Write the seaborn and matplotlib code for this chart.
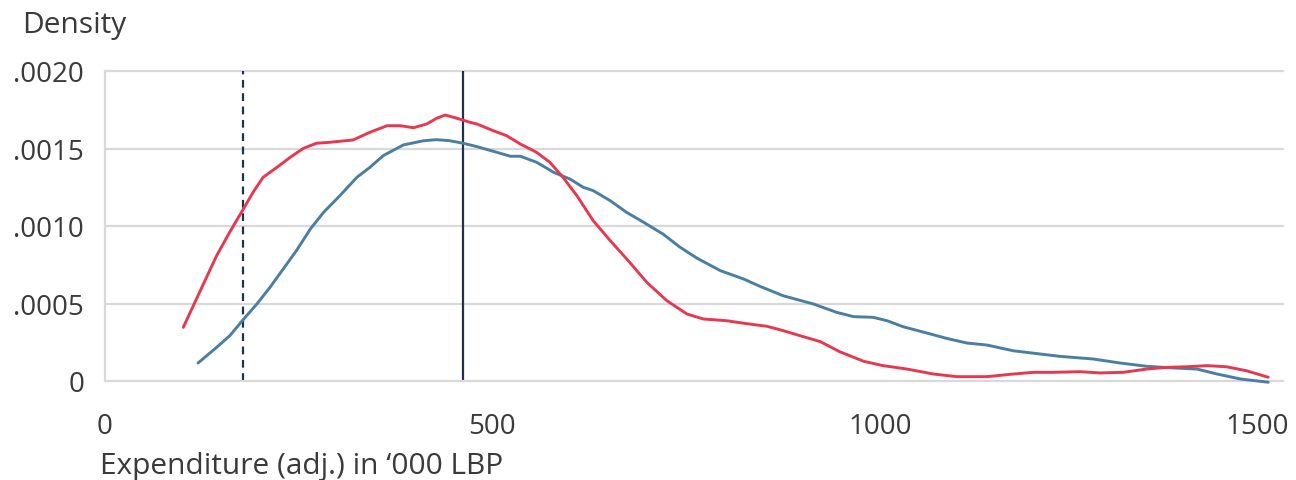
import numpy as np
import pandas as pd
import seaborn as sns
import matplotlib.pyplot as plt
import matplotlib.transforms as mtransforms

# Data (x in '000 LBP, y = density)
red_x = [101, 114, 127, 144, 161, 176, 191, 204, 222, 239, 256, 273, 290, 320, 342, 364,
         381, 398, 415, 428, 439, 454, 471, 480, 501, 518, 536, 557, 574, 591, 609, 630,
         652, 677, 699, 725, 751, 772, 802, 825, 854, 875, 897, 923, 948, 979, 1004, 1035,
         1069, 1099, 1138, 1172, 1198, 1224, 1258, 1284, 1314, 1344, 1370, 1396, 1422,
         1447, 1473, 1501]
red_y = [.000346, .000486, .000626, .000808, .000961, .001088, .001217, .001314, .001379,
         .001443, .001501, .001534, .001540, .001555, .001605, .001647, .001647, .001634,
         .001658, .001695, .001716, .001695, .001669, .001658, .001615, .001583, .001529,
         .001475, .001411, .001314, .001195, .001034, .000905, .000766, .000637, .000518,
         .000432, .000400, .000389, .000372, .000353, .000325, .000292, .000254, .000189,
         .000127, .000099, .000077, .000045, .000028, .000028, .000045, .000056, .000056,
         .000060, .000052, .000056, .000077, .000088, .000092, .000099, .000092, .000066,
         .000024]

blue_x = [120, 144, 161, 179, 196, 213, 230, 247, 265, 282, 303, 325, 342, 359, 385, 411,
          428, 445, 462, 480, 501, 523, 536, 557, 579, 600, 617, 630, 652, 673, 695, 720,
          742, 764, 794, 824, 845, 875, 914, 944, 966, 991, 1009, 1030, 1060, 1086, 1112,
          1138, 1172, 1207, 1232, 1275, 1310, 1344, 1379, 1409, 1435, 1465, 1501]
blue_y = [.000116, .000217, .000292, .000400, .000497, .000605, .000723, .000841, .000981,
          .001088, .001195, .001314, .001379, .001454, .001523, .001550, .001557, .001550,
          .001534, .001512, .001482, .001450, .001450, .001411, .001346, .001303, .001250,
          .001228, .001163, .001088, .001024, .000948, .000863, .000792, .000712, .000658,
          .000611, .000550, .000497, .000443, .000415, .000411, .000389, .000350, .000310,
          .000275, .000245, .000232, .000195, .000174, .000159, .000142, .000116, .000095,
          .000084, .000077, .000045, .000013, -.000008]

dashed_x = 178
solid_x = 462

x_ticks = [0, 500, 1000, 1500]
y_ticks = [0, .0005, .0010, .0015, .0020]
y_tick_labels = ["0", ".0005", ".0010", ".0015", ".0020"]

sns.set_style("white")
plt.rcParams['font.family'] = ['Open Sans', 'DejaVu Sans']

text_col = "#3a3a3a"
grid_col = "#d9d9d9"
red = "#e63950"
blue = "#4a7fa3"
navy = "#1d3150"
fs = 20

W, H = 1296, 481
fig = plt.figure(figsize=(W / 100, H / 100), dpi=100)
ax = fig.add_axes([105 / W, 1 - 382 / H, (1283 - 105) / W, (382 - 72) / H])

df_red = pd.DataFrame({"x": red_x, "y": red_y})
df_blue = pd.DataFrame({"x": blue_x, "y": blue_y})

for yv in y_ticks[1:]:
    ax.axhline(yv, color=grid_col, lw=1.6, zorder=0)

sns.lineplot(data=df_blue, x="x", y="y", color=blue, lw=2.1, ax=ax, sort=False, zorder=3)
sns.lineplot(data=df_red, x="x", y="y", color=red, lw=2.1, ax=ax, sort=False, zorder=4)
for l in ax.lines:
    l.set_clip_on(False)

ax.vlines(dashed_x, 0, .0020, colors=navy, linestyles=(0, (3.5, 2.5)), lw=1.6, zorder=2)
ax.vlines(solid_x, 0, .0020, colors=navy, lw=1.6, zorder=2)

ax.set_xlim(0, 1520)
ax.set_ylim(0, .0020)
ax.set_xticks(x_ticks)
ax.set_xticklabels([str(t) for t in x_ticks])
ax.set_yticks(y_ticks)
ax.set_yticklabels(y_tick_labels)
ax.tick_params(axis="x", direction="inout", length=14, width=1.2, color=grid_col,
               pad=15, labelsize=fs, labelcolor=text_col)
ax.tick_params(axis="y", length=0, pad=15, labelsize=fs, labelcolor=text_col)

# last label is pulled in a bit so it stays inside the figure
last = ax.get_xticklabels()[-1]
last.set_transform(last.get_transform() +
                   mtransforms.ScaledTranslation(-10 / 100, 0, fig.dpi_scale_trans))

for side in ["top", "right"]:
    ax.spines[side].set_visible(False)
for side in ["left", "bottom"]:
    ax.spines[side].set_color(grid_col)
    ax.spines[side].set_linewidth(1.6)

ax.set_xlabel("")
ax.set_ylabel("")
fig.text(22 / W, 1 - 33 / H, "Density", fontsize=21.5, color=text_col, va="baseline")
fig.text(100 / W, 1 - 474 / H, "Expenditure (adj.) in \u2018000 LBP", fontsize=21.5,
         color=text_col, va="baseline")

fig.savefig("out.png", dpi=100)
